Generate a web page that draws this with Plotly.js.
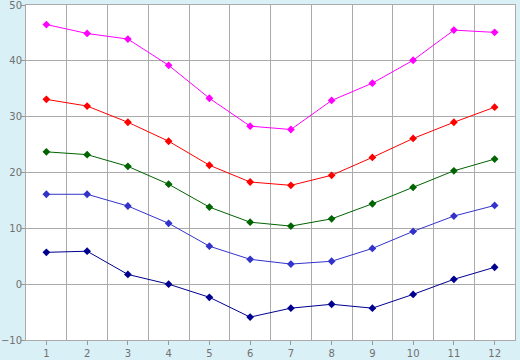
<!DOCTYPE html>
<html>
<head>
<meta charset="utf-8">
<script src="https://cdn.plot.ly/plotly-3.0.1.min.js"></script>
<style>html,body{margin:0;padding:0;background:#daf0f7;}#chart{width:520px;height:360px;}</style>
</head>
<body>
<div id="chart"></div>
<script>
const months = [1,2,3,4,5,6,7,8,9,10,11,12];
const seriesMagenta = [46.5, 44.9, 43.9, 39.2, 33.3, 28.3, 27.7, 32.9, 36.0, 40.1, 45.5, 45.1];
const seriesRed     = [33.1, 31.9, 29.0, 25.6, 21.3, 18.3, 17.7, 19.5, 22.7, 26.1, 29.0, 31.7];
const seriesGreen   = [23.7, 23.2, 21.1, 17.9, 13.8, 11.1, 10.4, 11.7, 14.4, 17.35, 20.3, 22.4];
const seriesBlue    = [16.1, 16.1, 14.0, 10.9, 6.8, 4.45, 3.6, 4.1, 6.4, 9.45, 12.2, 14.1];
const seriesNavy    = [5.7, 5.9, 1.74, 0.0, -2.35, -5.9, -4.3, -3.6, -4.3, -1.83, 0.87, 3.03];
const yTicks = [-10, 0, 10, 20, 30, 40, 50];

function tr(y, color) {
  return {x: months, y: y, type: 'scatter', mode: 'lines+markers',
    line: {color: color, width: 1}, marker: {symbol: 'diamond', size: 6, color: color},
    hoverinfo: 'none'};
}
const data = [
  tr(seriesNavy, '#00008f'),
  tr(seriesBlue, '#3333cc'),
  tr(seriesGreen, '#006400'),
  tr(seriesRed, '#ff0000'),
  tr(seriesMagenta, '#ff00ff')
];
const layout = {
  width: 520, height: 360,
  margin: {l: 26, r: 5, t: 5, b: 20, pad: 0},
  paper_bgcolor: '#daf0f7', plot_bgcolor: '#ffffff',
  showlegend: false,
  font: {family: 'DejaVu Sans, Verdana, sans-serif', size: 10, color: '#707070'},
  xaxis: {range: [0.5, 12.5], tickvals: months, ticktext: months.map(String),
    showgrid: false, zeroline: false, ticks: 'outside', ticklen: 4, tickcolor: '#999999',
    showline: true, mirror: true, linecolor: '#aaaaaa', linewidth: 1,
    ticklabeloverflow: 'allow', automargin: false,
    minor: {tick0: 0.5, dtick: 1, showgrid: true, gridcolor: '#aaaaaa', gridwidth: 1, ticks: ''},
    fixedrange: true},
  yaxis: {range: [-10, 50], tickvals: yTicks, ticktext: yTicks.map(v => v < 0 ? '\u2212' + Math.abs(v) : String(v)),
    showgrid: true, gridcolor: '#aaaaaa', gridwidth: 1, zeroline: false,
    ticks: 'outside', ticklen: 4, tickcolor: '#999999',
    ticklabeloverflow: 'allow', automargin: false, ticklabelstandoff: -3,
    showline: true, mirror: true, linecolor: '#aaaaaa', linewidth: 1, fixedrange: true}
};
Plotly.newPlot('chart', data, layout, {displayModeBar: false, staticPlot: true});
</script>
</body>
</html>
